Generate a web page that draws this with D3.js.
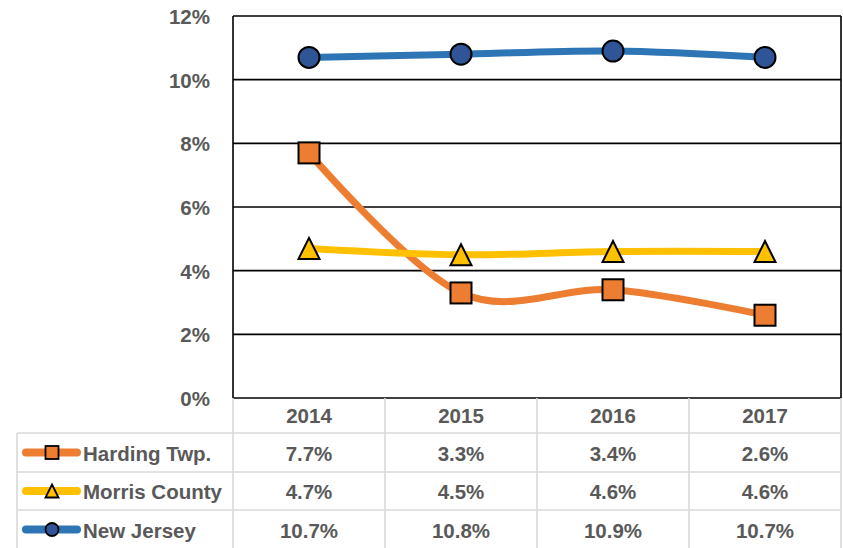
<!DOCTYPE html>
<html>
<head>
<meta charset="utf-8">
<script src="https://cdn.jsdelivr.net/npm/d3@7"></script>
<style>
  body { margin: 0; background: #fff; }
  text { font-family: "Liberation Sans", Arial, sans-serif; font-weight: bold; fill: #595959; }
</style>
</head>
<body>
<div id="chart"></div>
<script>
// chart data
const years = ["2014", "2015", "2016", "2017"];
const seriesNames = ["Harding Twp.", "Morris County", "New Jersey"];
const harding = [7.7, 3.3, 3.4, 2.6];
const morris = [4.7, 4.5, 4.6, 4.6];
const newJersey = [10.7, 10.8, 10.9, 10.7];
const yTicks = [0, 2, 4, 6, 8, 10, 12];

const series = [
    {name: seriesNames[0], values: harding, color: "#ED7D31", fill: "#ED7D31", marker: "square"},
    {name: seriesNames[1], values: morris, color: "#FFC000", fill: "#FFC000", marker: "triangle"},
    {name: seriesNames[2], values: newJersey, color: "#2E75B6", fill: "#2F5597", marker: "circle"}
];

const W = 843, H = 548;
const plot = {left: 233, right: 841, top: 16, bottom: 398};
const fontSize = 20.5;

const svg = d3.select("#chart").append("svg")
    .attr("width", W)
    .attr("height", H);

const x = d3.scaleBand()
    .domain(years)
    .range([plot.left, plot.right]);

const y = d3.scaleLinear()
    .domain([0, 12])
    .range([plot.bottom, plot.top]);

// gridlines
svg.append("g")
    .selectAll("line")
    .data(yTicks)
    .join("line")
    .attr("x1", plot.left)
    .attr("x2", plot.right)
    .attr("y1", d => y(d))
    .attr("y2", d => y(d))
    .attr("stroke", "#000")
    .attr("stroke-width", 1.6);

// plot borders left/right
svg.append("line")
    .attr("x1", plot.left).attr("x2", plot.left)
    .attr("y1", plot.top).attr("y2", plot.bottom)
    .attr("stroke", "#000").attr("stroke-width", 1.6);
svg.append("line")
    .attr("x1", plot.right).attr("x2", plot.right)
    .attr("y1", plot.top).attr("y2", plot.bottom)
    .attr("stroke", "#000").attr("stroke-width", 1.6);

// y axis labels
const yAxis = d3.axisLeft(y)
    .tickValues(yTicks)
    .tickFormat(d => d + "%")
    .tickSize(0)
    .tickPadding(0);

svg.append("g")
    .attr("transform", "translate(210,0)")
    .call(yAxis)
    .call(g => g.select(".domain").remove())
    .selectAll("text")
    .attr("font-size", fontSize)
    .attr("font-family", null)
    .attr("fill", "#595959")
    .attr("dy", "0.36em");

// data table grid
const rowTop = [398, 433, 472, 510, 549];
const tableLeft = 17;
const grid = svg.append("g").attr("stroke", "#d9d9d9").attr("stroke-width", 1.6);

// vertical lines for year columns
grid.selectAll(".vcol")
    .data(years.concat(["end"]))
    .join("line")
    .attr("x1", (d, i) => plot.left + i * x.bandwidth())
    .attr("x2", (d, i) => plot.left + i * x.bandwidth())
    .attr("y1", rowTop[0])
    .attr("y2", H);
grid.append("line")
    .attr("x1", tableLeft).attr("x2", tableLeft)
    .attr("y1", rowTop[1]).attr("y2", H);
// horizontal row lines
grid.selectAll(".hrow")
    .data(rowTop.slice(1, 4))
    .join("line")
    .attr("x1", tableLeft)
    .attr("x2", plot.right)
    .attr("y1", d => d)
    .attr("y2", d => d);

// year header
svg.append("g")
    .selectAll("text")
    .data(years)
    .join("text")
    .attr("x", d => x(d) + x.bandwidth() / 2)
    .attr("y", 423)
    .attr("text-anchor", "middle")
    .attr("font-size", fontSize)
    .text(d => d);

// marker drawing helper
function drawMarker(g, type, cx, cy, size, fill, sw) {
    if (type === "square") {
        g.append("rect")
            .attr("x", cx - size / 2).attr("y", cy - size / 2)
            .attr("width", size).attr("height", size)
            .attr("fill", fill).attr("stroke", "#000").attr("stroke-width", sw);
    } else if (type === "triangle") {
        g.append("path")
            .attr("d", `M${cx},${cy - size / 2}L${cx + size / 2},${cy + size / 2}L${cx - size / 2},${cy + size / 2}Z`)
            .attr("fill", fill).attr("stroke", "#000").attr("stroke-width", sw)
            .attr("stroke-linejoin", "miter");
    } else {
        g.append("circle")
            .attr("cx", cx).attr("cy", cy).attr("r", size / 2)
            .attr("fill", fill).attr("stroke", "#000").attr("stroke-width", sw);
    }
}

// lines
const line = d3.line()
    .x((d, i) => x(years[i]) + x.bandwidth() / 2)
    .y(d => y(d))
    .curve(d3.curveCardinal.tension(0));

series.forEach(s => {
    svg.append("path")
        .datum(s.values)
        .attr("d", line)
        .attr("fill", "none")
        .attr("stroke", s.color)
        .attr("stroke-width", 7)
        .attr("stroke-linecap", "round");
});

series.forEach(s => {
    const g = svg.append("g");
    s.values.forEach((v, i) => {
        drawMarker(g, s.marker, x(years[i]) + x.bandwidth() / 2, y(v), 21, s.fill, 2);
    });
});

// table rows
series.forEach((s, r) => {
    const cy = (rowTop[r + 1] + rowTop[r + 2]) / 2;
    const g = svg.append("g");
    g.append("line")
        .attr("x1", 26).attr("x2", 77)
        .attr("y1", cy).attr("y2", cy)
        .attr("stroke", s.color)
        .attr("stroke-width", 8)
        .attr("stroke-linecap", "round");
    drawMarker(g, s.marker, 52, cy, 13, s.fill, 1.8);
    g.append("text")
        .attr("x", 83)
        .attr("y", cy + 8)
        .attr("font-size", fontSize)
        .text(s.name);
    g.selectAll(".val")
        .data(s.values)
        .join("text")
        .attr("x", (d, i) => x(years[i]) + x.bandwidth() / 2)
        .attr("y", cy + 8)
        .attr("text-anchor", "middle")
        .attr("font-size", fontSize)
        .text(d => d.toFixed(1) + "%");
});
</script>
</body>
</html>
